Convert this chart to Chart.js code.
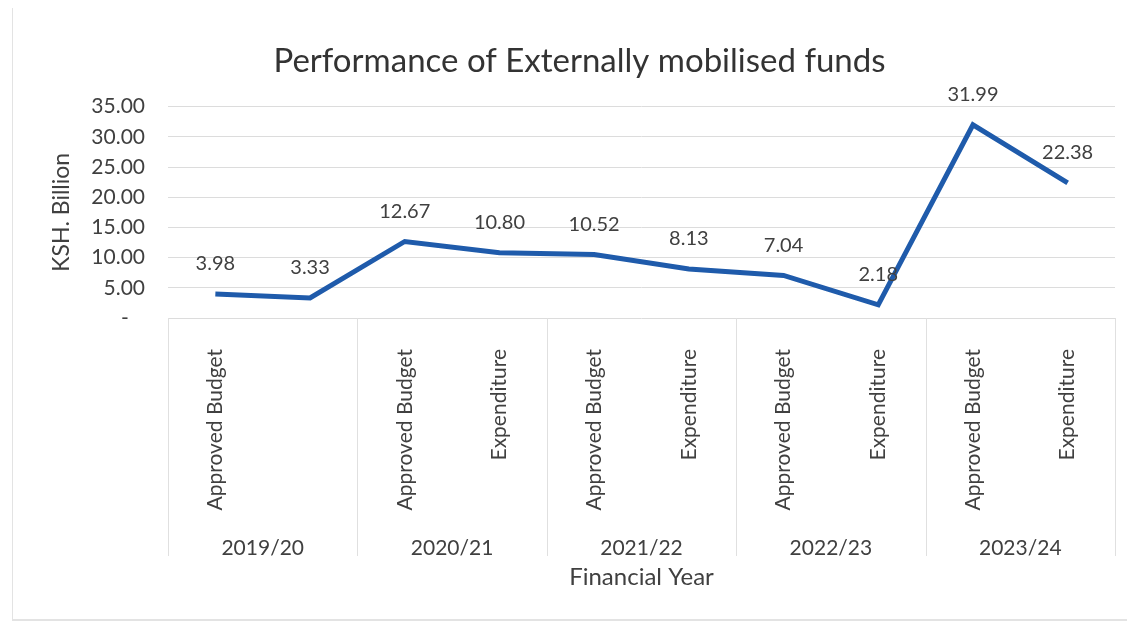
<!DOCTYPE html>
<html>
<head>
<meta charset="utf-8">
<script src="https://cdn.jsdelivr.net/npm/chart.js@4/dist/chart.umd.min.js"></script>
<style>
  html, body { margin: 0; padding: 0; background: #fff; }
  #frame { position: absolute; left: 12px; top: 8px; width: 1125px; height: 611px;
           border-left: 1px solid #e3e3e3; border-bottom: 2px solid #e3e3e3; }
  #wrap { position: absolute; left: 0; top: 0; width: 1127px; height: 624px; }
</style>
</head>
<body>
<div id="frame"></div>
<div id="wrap"><canvas id="perfChart" width="1127" height="624"></canvas></div>
<script>
var categories = ['Approved Budget', '', 'Approved Budget', 'Expenditure', 'Approved Budget',
                  'Expenditure', 'Approved Budget', 'Expenditure', 'Approved Budget', 'Expenditure'];
var years = ['2019/20', '2020/21', '2021/22', '2022/23', '2023/24'];
var funds = [3.98, 3.33, 12.67, 10.80, 10.52, 8.13, 7.04, 2.18, 31.99, 22.38];
var yTicks = [0, 5, 10, 15, 20, 25, 30, 35];

var textColor = '#404040';
var fontFamily = 'Lato, "Open Sans", sans-serif';

// group dividers below the axis
var dividers = {
  id: 'dividers',
  afterDraw: function(chart) {
    var xs = chart.scales.x, x2 = chart.scales.x2, ctx = chart.ctx;
    ctx.save();
    ctx.strokeStyle = '#e0e0e0';
    ctx.lineWidth = 1;
    for (var i = 0; i <= categories.length; i += 2) {
      var px = Math.round(xs.getPixelForValue(i - 0.5)) + 0.5;
      ctx.beginPath();
      ctx.moveTo(px, xs.top);
      ctx.lineTo(px, x2.top + 38);
      ctx.stroke();
    }
    ctx.restore();
  }
};

// value labels above the points
var pointLabels = {
  id: 'pointLabels',
  afterDatasetsDraw: function(chart) {
    var ctx = chart.ctx;
    var meta = chart.getDatasetMeta(0);
    ctx.save();
    ctx.fillStyle = textColor;
    ctx.font = '20px ' + fontFamily;
    ctx.textAlign = 'center';
    ctx.textBaseline = 'middle';
    meta.data.forEach(function(pt, i) {
      ctx.fillText(funds[i].toFixed(2), pt.x, pt.y - 30);
    });
    ctx.restore();
  }
};

var ctx = document.getElementById('perfChart').getContext('2d');
var chart = new Chart(ctx, {
  type: 'line',
  data: {
    labels: categories,
    datasets: [{
      label: 'Externally mobilised funds',
      data: funds,
      borderColor: '#1f5bab',
      borderWidth: 5,
      pointRadius: 0,
      tension: 0,
      xAxisID: 'x',
      yAxisID: 'y'
    }]
  },
  options: {
    responsive: false,
    animation: false,
    layout: { padding: { left: 44, right: 12, top: 30, bottom: 22 } },
    plugins: {
      legend: { display: false },
      tooltip: { enabled: false },
      title: {
        display: true,
        text: 'Performance of Externally mobilised funds',
        color: '#333333',
        font: { family: fontFamily, size: 33, weight: 'normal' },
        padding: { top: 12, bottom: 25 }
      }
    },
    scales: {
      x: {
        type: 'category',
        position: 'bottom',
        offset: true,
        grid: { display: false },
        border: { display: false },
        ticks: {
          autoSkip: false,
          minRotation: 90,
          maxRotation: 90,
          padding: 23,
          color: textColor,
          font: { family: fontFamily, size: 21 }
        },
        afterFit: function(s) { s.height = 200; }
      },
      x2: {
        type: 'category',
        position: 'bottom',
        labels: years,
        offset: true,
        grid: { display: false },
        border: { display: false },
        ticks: { padding: 10, color: textColor, font: { family: fontFamily, size: 21 } },
        title: {
          display: true,
          text: 'Financial Year',
          color: textColor,
          font: { family: fontFamily, size: 24 },
          padding: { top: 4, bottom: 10 }
        },
        afterFit: function(s) { s.height = 84; }
      },
      y: {
        min: 0,
        max: 35,
        afterBuildTicks: function(s) {
          s.ticks = yTicks.map(function(v) { return { value: v }; });
        },
        grid: { color: '#dcdcdc', drawTicks: false },
        border: { display: false },
        ticks: {
          padding: 23,
          color: textColor,
          font: { family: fontFamily, size: 21 },
          callback: function(v) { return v === 0 ? '-   ' : v.toFixed(2); }
        },
        title: {
          display: true,
          text: 'KSH. Billion',
          color: textColor,
          font: { family: fontFamily, size: 23 },
          padding: { top: 4, bottom: 4 }
        },
        afterFit: function(s) { s.width = 124; }
      }
    }
  },
  plugins: [dividers, pointLabels]
});
</script>
</body>
</html>
